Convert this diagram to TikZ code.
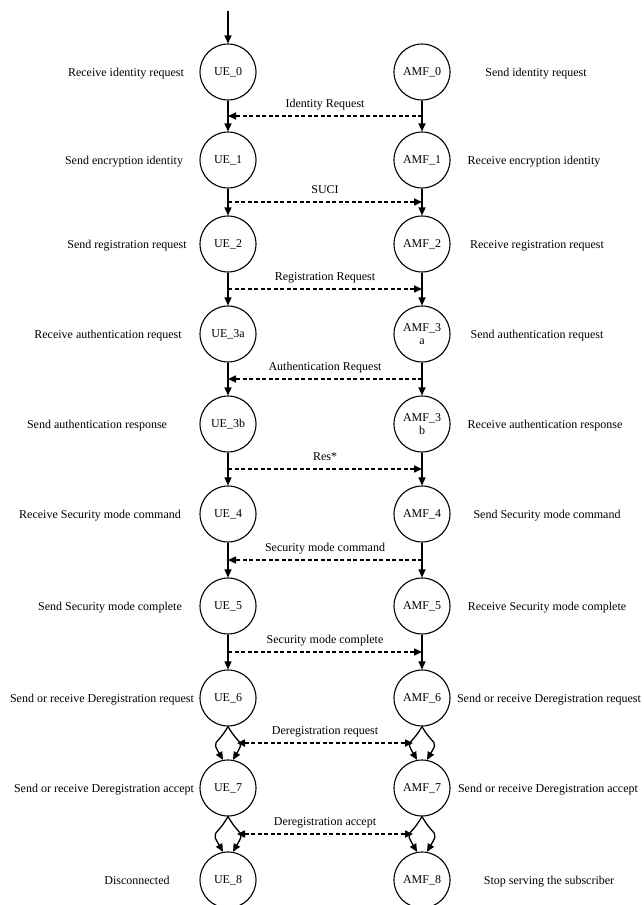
\documentclass[tikz,border=0pt]{standalone}
\usepackage{fontspec}
\setmainfont{Liberation Serif}
\usetikzlibrary{arrows.meta,calc}
\begin{document}
\begin{tikzpicture}[x=1pt,y=1pt,
  tip/.tip={Triangle[length=8pt,width=7pt]},
  state/.style={circle,draw,line width=1.1pt,minimum size=56pt,inner sep=0pt,
    font=\fontsize{12}{13}\selectfont,align=center},
  note/.style={font=\fontsize{12}{14}\selectfont,inner sep=0pt,anchor=base},
  flow/.style={line width=1.3pt,-tip},
  msg/.style={line width=1.6pt,dash pattern=on 4pt off 2.5pt,-tip},
  twoway/.style={line width=1.6pt,dash pattern=on 4pt off 2.5pt,tip-tip},
]
\useasboundingbox (0,0) rectangle (643,-905);
\clip (0,0) rectangle (643,-905);

% states of both parties, one row per step, with the side descriptions
\foreach \i/\y/\u/\a/\lx/\lt/\rx/\rt in {
  0/72/{UE\_0}/{AMF\_0}/126/{Receive identity request}/536/{Send identity request},
  1/160/{UE\_1}/{AMF\_1}/124/{Send encryption identity}/534/{Receive encryption identity},
  2/244/{UE\_2}/{AMF\_2}/127/{Send registration request}/537/{Receive registration request},
  3/334/{UE\_3a}/{AMF\_3\\a}/108/{Receive authentication request}/537/{Send authentication request},
  4/424/{UE\_3b}/{AMF\_3\\b}/97/{Send authentication response}/545/{Receive authentication response},
  5/514/{UE\_4}/{AMF\_4}/100/{Receive Security mode command}/547/{Send Security mode command},
  6/606/{UE\_5}/{AMF\_5}/110/{Send Security mode complete}/547/{Receive Security mode complete},
  7/698/{UE\_6}/{AMF\_6}/102/{Send or receive Deregistration request}/549/{Send or receive Deregistration request},
  8/788/{UE\_7}/{AMF\_7}/104/{Send or receive Deregistration accept}/548/{Send or receive Deregistration accept},
  9/880/{UE\_8}/{AMF\_8}/137/{Disconnected}/549/{Stop serving the subscriber}} {
  \node[state] (U\i) at (228,-\y) {\u};
  \node[state] (A\i) at (422,-\y) {\a};
  \node[note] (LU\i) at (\lx,-\y-4) {\lt};
  \node[note] (LA\i) at (\rx,-\y-4) {\rt};
}

% entry arrow
\coordinate (start) at (228,-11);
\draw[flow] (start) -- (U0);

% straight transitions and the points where messages meet them
\foreach \i/\j in {0/1,1/2,2/3,3/4,4/5,5/6,6/7} {
  \draw[flow] (U\i) -- (U\j);
  \draw[flow] (A\i) -- (A\j);
  \coordinate (um\i) at ($(U\i)!0.5!(U\j)$);
  \coordinate (am\i) at ($(A\i)!0.5!(A\j)$);
}

% paired transitions for deregistration
\foreach \i/\j in {7/8,8/9} {
  \draw[flow] (U\i.south) to[out=240,in=120,looseness=1.8] (U\j.100);
  \draw[flow] (U\i.south) to[out=-60,in=60,looseness=1.8] (U\j.80);
  \draw[flow] (A\i.south) to[out=240,in=120,looseness=1.8] (A\j.100);
  \draw[flow] (A\i.south) to[out=-60,in=60,looseness=1.8] (A\j.80);
  \coordinate (um\i) at ($(U\i)!0.5!(U\j)+(9,0)$);
  \coordinate (am\i) at ($(A\i)!0.5!(A\j)+(-9,0)$);
}

% messages
\draw[msg] (am0) -- node[note,midway,yshift=9pt] {Identity Request} (um0);
\draw[msg] (um1) -- node[note,midway,yshift=9pt] {SUCI} (am1);
\draw[msg] (um2) -- node[note,midway,yshift=9pt] {Registration Request} (am2);
\draw[msg] (am3) -- node[note,midway,yshift=9pt] {Authentication Request} (um3);
\draw[msg] (um4) -- node[note,midway,yshift=9pt] {Res*} (am4);
\draw[msg] (am5) -- node[note,midway,yshift=9pt] {Security mode command} (um5);
\draw[msg] (um6) -- node[note,midway,yshift=9pt] {Security mode complete} (am6);
\draw[twoway] (um7) -- node[note,midway,yshift=9pt] {Deregistration request} (am7);
\draw[twoway] (um8) -- node[note,midway,yshift=9pt] {Deregistration accept} (am8);
\end{tikzpicture}
\end{document}
